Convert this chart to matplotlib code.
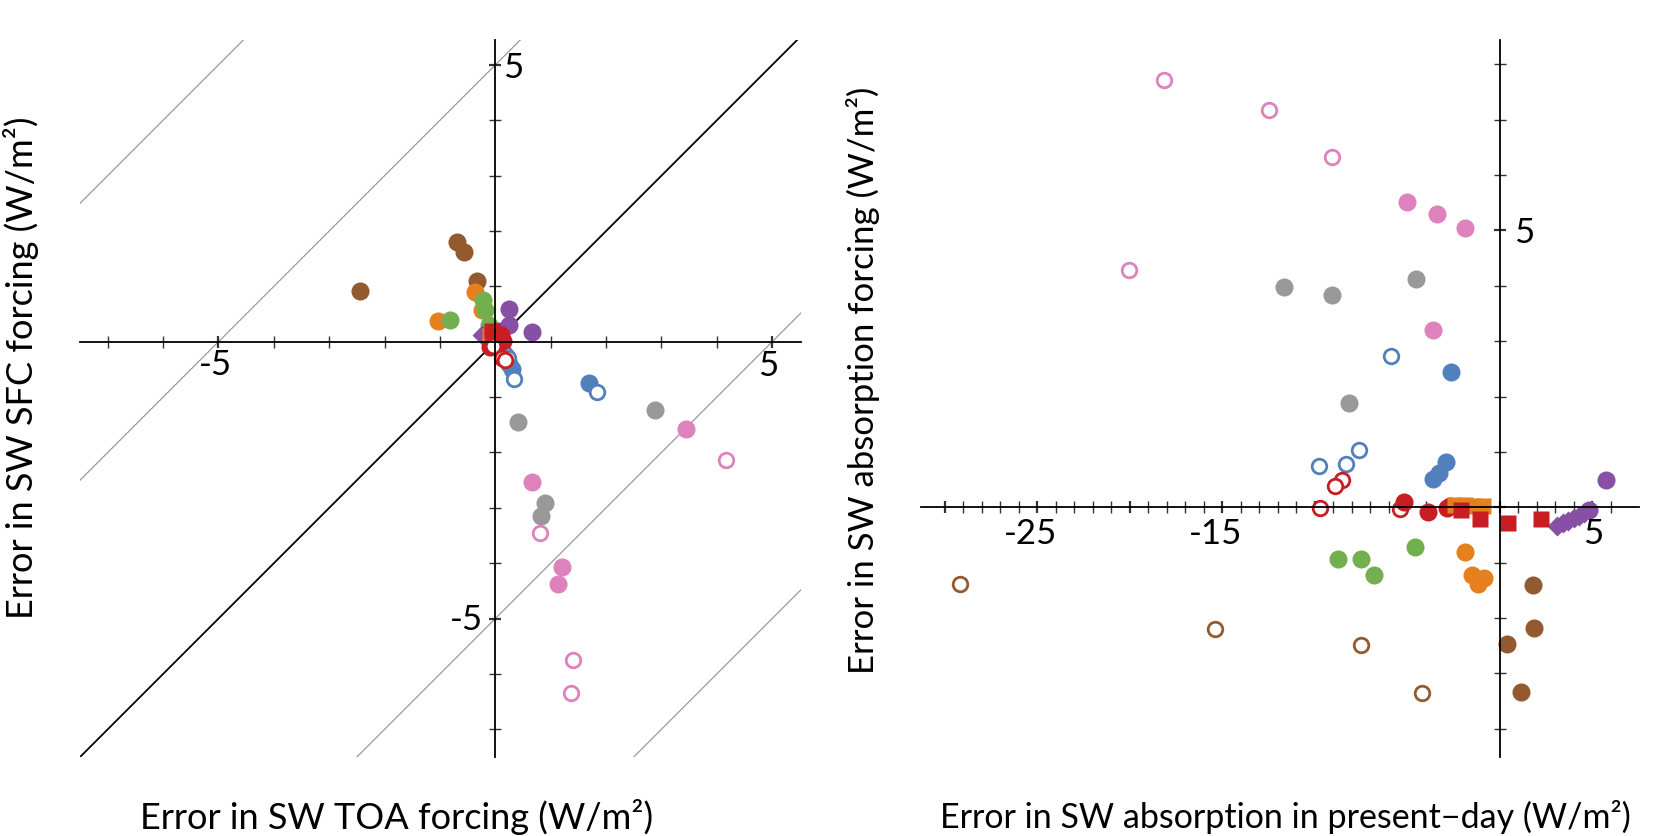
import matplotlib
matplotlib.use("Agg")
import matplotlib.pyplot as plt

plt.rcParams['font.family'] = ['Lato', 'DejaVu Sans']

# colours for the model groups
c_blue = "#5280BC"
c_orange = "#E6801F"
c_green = "#74AF4F"
c_red = "#C81D22"
c_purple = "#8750A4"
c_brown = "#935A30"
c_pink = "#DE82BD"
c_gray = "#999999"

# ---- left panel: SW TOA forcing error (x) vs SW SFC forcing error (y)
toa_blue = [0.20, 0.25, 0.30, 1.70]
sfc_blue = [-0.25, -0.40, -0.50, -0.74]
toa_blue_o = [0.15, 0.22, 0.33, 1.84]
sfc_blue_o = [-0.20, -0.30, -0.68, -0.90]
toa_gray = [0.41, 2.88, 0.90, 0.82]
sfc_gray = [-1.45, -1.23, -2.92, -3.15]
toa_pink = [3.45, 0.67, 1.21, 1.14]
sfc_pink = [-1.58, -2.53, -4.06, -4.38]
toa_pink_o = [4.17, 0.81, 1.41, 1.36]
sfc_pink_o = [-2.14, -3.45, -5.74, -6.35]
toa_brown = [-0.69, -0.57, -2.45, -0.34]
sfc_brown = [1.80, 1.62, 0.91, 1.09]
toa_orange = [-0.36, -0.24, -1.03, -0.10]
sfc_orange = [0.90, 0.58, 0.37, 0.20]
toa_green = [-0.22, -0.18, -0.82, -0.12]
sfc_green = [0.75, 0.58, 0.40, 0.30]
toa_purple = [0.24, 0.24, 0.66, 0.05]
sfc_purple = [0.60, 0.31, 0.18, 0.20]
toa_purple_d = [-0.24, -0.15]
sfc_purple_d = [0.13, 0.08]
toa_osq = [-0.10, -0.02]
sfc_osq = [0.10, 0.05]
toa_red = [-0.05, 0.14, -0.10, 0.05, 0.10]
sfc_red = [0.15, 0.02, -0.10, 0.00, 0.12]
toa_red_o = [0.12, 0.18, -0.05]
sfc_red_o = [-0.29, -0.33, -0.08]
toa_rsq = [-0.06, 0.00]
sfc_rsq = [0.19, 0.08]

# ---- right panel: SW absorption error present-day (x) vs SW absorption forcing error (y)
pd_blue = [-2.62, -2.93, -3.29, -3.59]
af_blue = [2.44, 0.82, 0.62, 0.51]
pd_blue_o = [-5.88, -7.61, -8.31, -9.76]
af_blue_o = [2.73, 1.04, 0.79, 0.75]
pd_gray = [-8.14, -4.53, -9.05, -11.66]
af_gray = [1.88, 4.12, 3.83, 3.97]
pd_pink = [-5.03, -3.39, -1.86, -3.61]
af_pink = [5.52, 5.29, 5.05, 3.21]
pd_pink_o = [-18.13, -12.49, -9.07, -20.04]
af_pink_o = [7.72, 7.17, 6.32, 4.28]
pd_brown = [1.81, 1.85, 0.39, 1.13]
af_brown = [-1.40, -2.18, -2.47, -3.34]
pd_brown_o = [-29.16, -15.38, -7.49, -4.22]
af_brown_o = [-1.39, -2.20, -2.48, -3.36]
pd_orange = [-1.86, -1.52, -0.85, -1.16]
af_orange = [-0.80, -1.23, -1.28, -1.38]
pd_green = [-8.76, -7.50, -6.78, -4.60]
af_green = [-0.94, -0.93, -1.22, -0.72]
pd_purple = [5.76, 4.80]
af_purple = [0.49, -0.05]
pd_purple_d = [3.10, 3.40, 3.70, 4.00, 4.30, 4.55]
af_purple_d = [-0.33, -0.29, -0.24, -0.20, -0.15, -0.10]
pd_red = [-5.20, -3.88, -2.87, -2.70]
af_red = [0.10, -0.09, -0.02, 0.02]
pd_red_o = [-8.55, -8.91, -9.72, -5.39]
af_red_o = [0.49, 0.38, -0.01, -0.03]
pd_rsq = [-2.12, -1.07, 0.46, 2.23]
af_rsq = [-0.04, -0.21, -0.29, -0.22]
pd_osq = [-2.40, -1.90, -1.40, -0.90]
af_osq = [0.04, 0.04, 0.03, 0.02]

diag_offsets = [-10, -5, 0, 5, 10]

FS = 25


def fill(ax, x, y, col):
    ax.plot(x, y, 'o', ms=13, color=col, mec='none', zorder=2)


def hollow(ax, x, y, col):
    ax.plot(x, y, 'o', ms=10.5, mfc='white', mec=col, mew=2.0, zorder=2)


def square(ax, x, y, col):
    ax.plot(x, y, 's', ms=11, color=col, mec='none', zorder=2)


def diamond(ax, x, y, col):
    ax.plot(x, y, 'D', ms=10, color=col, mec='none', zorder=2)


def cross_axes(ax, xticks, yticks):
    for s in ['top', 'right']:
        ax.spines[s].set_visible(False)
    for s in ['left', 'bottom']:
        ax.spines[s].set_position('zero')
        ax.spines[s].set_linewidth(1.3)
        ax.spines[s].set_zorder(3)
    ax.set_xticks(xticks)
    ax.set_yticks(yticks)
    ax.tick_params(direction='inout', length=9, width=1.0, color='#333333',
                   labelbottom=False, labelleft=False)
    # major ticks at multiples of 5 a bit heavier
    for t, v in zip(ax.xaxis.get_major_ticks(), xticks):
        if v % 5 == 0:
            t.tick1line.set_markeredgewidth(1.6)
            t.tick1line.set_color('black')
    for t, v in zip(ax.yaxis.get_major_ticks(), yticks):
        if v % 5 == 0:
            t.tick1line.set_markeredgewidth(1.6)
            t.tick1line.set_color('black')


def lab(ax, x, y, s, dx, dy, ha='center'):
    ax.annotate(s, xy=(x, y), xytext=(dx, dy), textcoords='offset pixels',
                ha=ha, va='center', fontsize=FS, zorder=5)


fig = plt.figure(figsize=(16.75, 8.37), dpi=100)

# left panel
ax1 = fig.add_axes([0.0478, 0.0944, 0.4304, 0.8566])
ax1.set_xlim(-7.5, 5.52)
ax1.set_ylim(-7.5, 5.45)
for c in diag_offsets:
    if c == 0:
        ax1.axline((0, c), slope=1, color='black', lw=1.3, zorder=1)
    else:
        ax1.axline((0, c), slope=1, color='#9a9a9a', lw=0.9, zorder=1)

fill(ax1, toa_brown, sfc_brown, c_brown)
fill(ax1, toa_orange, sfc_orange, c_orange)
fill(ax1, toa_green, sfc_green, c_green)
fill(ax1, toa_purple, sfc_purple, c_purple)
diamond(ax1, toa_purple_d, sfc_purple_d, c_purple)
fill(ax1, toa_gray, sfc_gray, c_gray)
fill(ax1, toa_pink, sfc_pink, c_pink)
hollow(ax1, toa_pink_o, sfc_pink_o, c_pink)
fill(ax1, toa_blue, sfc_blue, c_blue)
hollow(ax1, toa_blue_o, sfc_blue_o, c_blue)
square(ax1, toa_osq, sfc_osq, c_orange)
fill(ax1, toa_red, sfc_red, c_red)
square(ax1, toa_rsq, sfc_rsq, c_red)
hollow(ax1, toa_red_o, sfc_red_o, c_red)

cross_axes(ax1, list(range(-7, 6)), list(range(-7, 6)))
lab(ax1, -5, 0, "-5", -3, -22)
lab(ax1, 5, 0, "5", -4, -23)
lab(ax1, 0, -5, "-5", -12, 0, ha='right')
lab(ax1, 0, 5, "5", 8, -2, ha='left')

# right panel
ax2 = fig.add_axes([0.5496, 0.0944, 0.4289, 0.8566])
ax2.set_xlim(-31.3, 7.52)
ax2.set_ylim(-4.51, 8.44)

hollow(ax2, pd_pink_o, af_pink_o, c_pink)
fill(ax2, pd_pink, af_pink, c_pink)
fill(ax2, pd_gray, af_gray, c_gray)
hollow(ax2, pd_blue_o, af_blue_o, c_blue)
fill(ax2, pd_blue, af_blue, c_blue)
hollow(ax2, pd_brown_o, af_brown_o, c_brown)
fill(ax2, pd_brown, af_brown, c_brown)
fill(ax2, pd_green, af_green, c_green)
fill(ax2, pd_orange, af_orange, c_orange)
diamond(ax2, pd_purple_d, af_purple_d, c_purple)
fill(ax2, pd_purple, af_purple, c_purple)
hollow(ax2, pd_red_o, af_red_o, c_red)
fill(ax2, pd_red, af_red, c_red)
square(ax2, pd_osq, af_osq, c_orange)
square(ax2, pd_rsq, af_rsq, c_red)

cross_axes(ax2, list(range(-30, 7)), list(range(-4, 9)))
lab(ax2, -25, 0, "-25", -7, -26)
lab(ax2, -15, 0, "-15", -7, -26)
lab(ax2, 5, 0, "5", 1, -26)
lab(ax2, 0, 5, "5", 14, -2, ha='left')

# axis titles
fig.text(397 / 1675, 1 - 817 / 837, "Error in SW TOA forcing (W/m²)",
         ha='center', va='center', fontsize=26)
fig.text(1285 / 1675, 1 - 817 / 837,
         "Error in SW absorption in present\u2212day (W/m²)",
         ha='center', va='center', fontsize=24.5)
fig.text(21 / 1675, 1 - 368 / 837, "Error in SW SFC forcing (W/m²)",
         ha='center', va='center', rotation=90, fontsize=26)
fig.text(863 / 1675, 1 - 380 / 837, "Error in SW absorption forcing (W/m²)",
         ha='center', va='center', rotation=90, fontsize=25)

fig.savefig("out.png", dpi=100)
